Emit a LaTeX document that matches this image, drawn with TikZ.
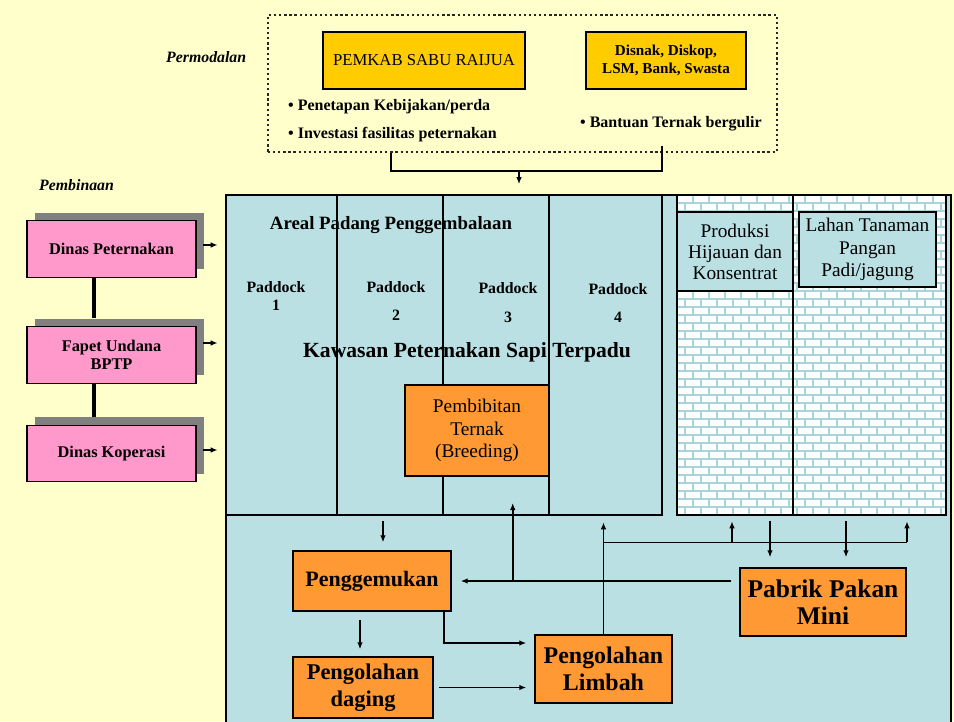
\documentclass[tikz,border=0pt]{standalone}
\usepackage{fontspec}
\setmainfont{Liberation Serif}
\usetikzlibrary{arrows.meta,shadows,calc}

\definecolor{bgyellow}{HTML}{FFFFCC}
\definecolor{areablue}{HTML}{BBE0E3}
\definecolor{goldbox}{HTML}{FFCC00}
\definecolor{orangebox}{HTML}{FF9933}
\definecolor{pinkbox}{HTML}{FF99CC}
\definecolor{shadowgray}{HTML}{808080}
\definecolor{brickline}{HTML}{A8D5DB}

\tikzset{
  pinkcard/.style={rectangle, draw, line width=0.8pt, fill=pinkbox,
    minimum width=33.8mm, minimum height=11.3mm, align=center,
    font=\bfseries\fontsize{9.3}{10.5}\selectfont,
    drop shadow={shadow xshift=1.6mm, shadow yshift=1.6mm, fill=shadowgray, opacity=1}},
  goldcard/.style={rectangle, draw, line width=0.8pt, fill=goldbox,
    minimum height=11.4mm, align=center, inner sep=1pt},
  orangecard/.style={rectangle, draw, line width=0.8pt, fill=orangebox,
    align=center, inner sep=1pt},
  bluecard/.style={rectangle, draw, line width=0.8pt, fill=areablue,
    align=center, inner sep=0.5pt},
  flow/.style={line width=0.9pt, -{Latex[length=4pt,width=3.2pt]}},
  plain/.style={line width=0.9pt},
}

\begin{document}
\begin{tikzpicture}[x=0.2mm, y=-0.2mm]
\useasboundingbox (0,0) rectangle (954,721);
\fill[bgyellow] (0,0) rectangle (954,721);

% permodalan
\node[draw=black!85, line width=1.3pt, dash pattern=on 1.3pt off 1.6pt,
  minimum width=101.8mm, minimum height=27.4mm] (modal) at (522.5,83.5) {};
\node[anchor=west, font=\bfseries\itshape\fontsize{9}{10}\selectfont] (permodalan) at (160,57) {Permodalan};
\node[goldcard, minimum width=40.4mm, font=\fontsize{9.5}{11}\selectfont] (pemkab) at (424,60.5) {PEMKAB SABU RAIJUA};
\node[goldcard, minimum width=32mm, font=\bfseries\fontsize{8.6}{10.2}\selectfont] (dana) at (666,60.5) {Disnak, Diskop,\\LSM, Bank, Swasta};
\node[anchor=west, font=\bfseries\fontsize{9.1}{10}\selectfont] (perda) at (282,107) {\textbullet\ Penetapan Kebijakan/perda};
\node[anchor=west, font=\bfseries\fontsize{9.1}{10}\selectfont] (investasi) at (282,135) {\textbullet\ Investasi fasilitas peternakan};
\node[anchor=west, font=\bfseries\fontsize{9.1}{10}\selectfont] (bergulir) at (574,124) {\textbullet\ Bantuan Ternak bergulir};

% kawasan
\draw[line width=0.9pt, fill=areablue] (226,195) rectangle (951,740);
\node[draw, line width=0.9pt, minimum width=87.2mm, minimum height=64mm, inner sep=0pt] (padang) at (444,355) {};
\foreach \x in {337,443,549}
  \draw[line width=0.9pt] (\x,195) -- (\x,515);

% lahan (bricks)
\fill[white] (677,195) rectangle (946,515);
\begin{scope}
  \clip (677,195) rectangle (946,515);
  \foreach \r in {0,...,40} {
    \draw[brickline, line width=0.8pt] (677,195+8*\r) -- (946,195+8*\r);
    \pgfmathtruncatemacro\off{mod(\r,2)*8}
    \foreach \k in {0,...,17}
      \draw[brickline, line width=0.8pt] (677+\off+16*\k,195+8*\r) -- ++(0,8);
  }
\end{scope}
\draw[line width=0.9pt] (677,195) rectangle (946,515);
\draw[line width=0.9pt] (793,195) -- (793,515);
\node[bluecard, minimum width=23.2mm, minimum height=15.8mm, font=\fontsize{11}{12}\selectfont] (hijauan) at (735,251.5) {Produksi\\Hijauan dan\\Konsentrat};
\node[bluecard, minimum width=27.4mm, minimum height=15mm, font=\fontsize{11}{12.8}\selectfont] (pangan) at (867.5,249.5) {Lahan Tanaman\\Pangan\\Padi/jagung};

\node[font=\bfseries\fontsize{10.7}{12}\selectfont] (areal) at (391,225) {Areal Padang Penggembalaan};
\node[align=center, font=\bfseries\fontsize{9}{10.2}\selectfont] (pd1) at (276,296) {Paddock\\1};
\node[align=center, font=\bfseries\fontsize{9}{10.2}\selectfont] (pd2) at (396,301) {Paddock\\[5.7pt]2};
\node[align=center, font=\bfseries\fontsize{9}{10.2}\selectfont] (pd3) at (508,302.5) {Paddock\\[6.2pt]3};
\node[align=center, font=\bfseries\fontsize{9}{10.2}\selectfont] (pd4) at (618,303) {Paddock\\[5.7pt]4};
\node[font=\bfseries\fontsize{12.3}{14}\selectfont] (kawasan) at (467,352) {Kawasan Peternakan Sapi Terpadu};
\node[orangecard, minimum width=28.8mm, minimum height=18.2mm, font=\fontsize{11}{12.8}\selectfont] (bibit) at (477,430.5) {Pembibitan\\Ternak\\(Breeding)};

% pembinaan
\node[anchor=west, font=\bfseries\itshape\fontsize{9}{10}\selectfont] (pembinaan) at (33,185) {Pembinaan};
\node[pinkcard] (dp) at (111.5,249) {Dinas Peternakan};
\node[pinkcard] (fapet) at (111.5,355) {Fapet Undana\\BPTP};
\node[pinkcard] (koperasi) at (111.5,453.5) {Dinas Koperasi};
\draw[line width=1.8pt] ($(dp.south)+(-17.5,0)$) -- ($(fapet.north)+(-17.5,-8)$);
\draw[line width=1.8pt] ($(fapet.south)+(-17.5,0)$) -- ($(koperasi.north)+(-17.5,-8)$);
\draw[flow] ($(dp.east)+(6,-4)$) -- ++(15,0);
\draw[flow] ($(fapet.east)+(6,-12)$) -- ++(15,0);
\draw[flow] ($(koperasi.east)+(6,-3.5)$) -- ++(15,0);

% hilir
\node[orangecard, minimum width=31.6mm, minimum height=12mm, font=\bfseries\fontsize{12.5}{14}\selectfont] (gemuk) at (372,581) {Penggemukan};
\node[orangecard, minimum width=33.2mm, minimum height=13.6mm, font=\bfseries\fontsize{14.5}{15.5}\selectfont] (pabrik) at (823,602) {Pabrik Pakan\\Mini};
\node[orangecard, minimum width=27.4mm, minimum height=13.6mm, font=\bfseries\fontsize{13.6}{15.4}\selectfont] (limbah) at (603.5,669) {Pengolahan\\Limbah};
\node[orangecard, minimum width=28mm, minimum height=12.2mm, font=\bfseries\fontsize{12.8}{15.3}\selectfont] (daging) at (363,687.5) {Pengolahan\\daging};

% arus
\draw[plain] ($(modal.south)+(-131.5,0)$) -- ++(0,18) -| ($(modal.south)+(139.5,-7)$);
\draw[flow] ($(modal.south)+(-3.5,18)$) -- ++(0,13);
\draw[flow] ($(gemuk.north)+(11,-29)$) -- ($(gemuk.north)+(11,-8)$);
\draw[flow] ($(gemuk.south)+(-12,8)$) -- ($(daging.north)+(-3,-7)$);
\draw[flow] ($(gemuk.south east)+(-8,0)$) |- ($(limbah.west)+(-8,-26)$);
\draw[flow] ($(daging.east)+(5,0)$) -- ($(limbah.west)+(-8,18.5)$);
\draw[flow] ($(pabrik.west)+(-8,-21)$) -- ($(gemuk.east)+(9,0)$);
\draw[flow] ($(gemuk.east)+(61,0)$) -- ++(0,-78);
\draw[flow] (limbah.north) -- ++(0,-112);
\draw[plain] ($(limbah.north)+(0,-92)$) -- ($(pabrik.north)+(84,-25)$);
\draw[flow] ($(pabrik.north)+(-91,-25)$) -- ++(0,-21);
\draw[flow] ($(pabrik.north)+(84,-25)$) -- ++(0,-21);
\draw[flow] ($(pabrik.north)+(-53,-46)$) -- ++(0,36);
\draw[flow] ($(pabrik.north)+(23,-46)$) -- ++(0,36);
\end{tikzpicture}
\end{document}
